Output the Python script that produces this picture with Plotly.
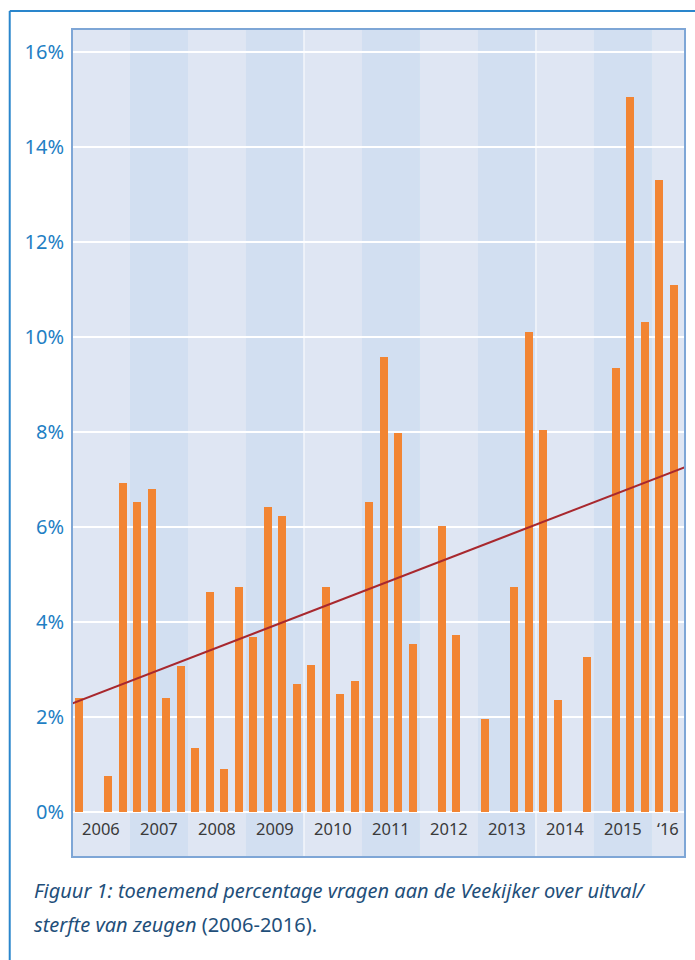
import numpy as np
import plotly.graph_objects as go

# Quarterly share of questions about sow losses / mortality (%), 2006 Q1 .. 2016 Q2
years = [2006, 2007, 2008, 2009, 2010, 2011, 2012, 2013, 2014, 2015, 2016]
year_labels = ["2006", "2007", "2008", "2009", "2010", "2011", "2012", "2013", "2014", "2015", "\u201816"]
quarterly_pct = [
    2.39, 0.00, 0.76, 6.93,    # 2006
    6.53, 6.80, 2.40, 3.07,    # 2007
    1.35, 4.63, 0.91, 4.74,    # 2008
    3.68, 6.42, 6.23, 2.69,    # 2009
    3.09, 4.74, 2.48, 2.76,    # 2010
    6.53, 9.58, 7.98, 3.54,    # 2011
    0.00, 6.02, 3.73, 0.00,    # 2012
    1.96, 0.00, 4.74, 10.11,   # 2013
    8.04, 2.36, 0.00, 3.26,    # 2014
    0.00, 9.35, 15.05, 10.32,  # 2015
    13.31, 11.09,              # 2016
]
y_ticks = [0, 2, 4, 6, 8, 10, 12, 14, 16]
caption_1 = "<i>Figuur 1: toenemend percentage vragen aan de Veekijker over uitval/</i>"
caption_2 = "<i>sterfte van zeugen</i> (2006-2016)."

X_END = 2016.57
Y_MIN, Y_MAX = -0.95, 16.48

# quarter centres on a continuous year axis
x_q = np.array([2006 + 0.125 + 0.25 * i for i in range(len(quarterly_pct))])
vals = np.array(quarterly_pct)

# least-squares linear trend over all quarters
slope, intercept = np.polyfit(x_q, vals, 1)
trend_x = [2006, X_END]
trend_y = [slope * x + intercept for x in trend_x]

BAND_LIGHT = "#dfe6f3"
BAND_DARK = "#d2dff1"

fig = go.Figure()
fig.add_trace(go.Bar(
    x=x_q, y=vals, width=0.138,
    marker=dict(color="#f28533", line=dict(width=0)),
    hoverinfo="skip",
))
fig.add_trace(go.Scatter(
    x=trend_x, y=trend_y, mode="lines",
    line=dict(color="#a8282e", width=2),
    hoverinfo="skip",
))

shapes = []
for i, yr in enumerate(years):
    shapes.append(dict(
        type="rect", xref="x", yref="paper",
        x0=yr, x1=min(yr + 1, X_END), y0=0, y1=1,
        fillcolor=BAND_LIGHT if i % 2 == 0 else BAND_DARK,
        line=dict(width=0), layer="below",
    ))
for yr in (2010, 2014):
    shapes.append(dict(
        type="line", xref="x", yref="paper", x0=yr, x1=yr, y0=0, y1=1,
        line=dict(color="#ffffff", width=1), layer="below",
    ))
# plot-area border
shapes.append(dict(
    type="rect", xref="paper", yref="paper", x0=0, x1=1, y0=0, y1=1,
    line=dict(color="#7ea6d6", width=2), fillcolor="rgba(0,0,0,0)", layer="above",
))
# outer frame (left and top edges)
FRAME = "#2a86cc"
shapes.append(dict(
    type="line", xref="paper", yref="paper", x0=-0.1016, x1=-0.1016, y0=-0.2, y1=1.0217,
    line=dict(color=FRAME, width=2), layer="above",
))
shapes.append(dict(
    type="line", xref="paper", yref="paper", x0=-0.1016, x1=1.1, y0=1.0217, y1=1.0217,
    line=dict(color=FRAME, width=2), layer="above",
))

annotations = []
for yr, lab in zip(years, year_labels):
    annotations.append(dict(
        x=(yr + min(yr + 1, X_END)) / 2, y=-0.34, xref="x", yref="y",
        text=lab, showarrow=False, xanchor="center", yanchor="middle",
        font=dict(family="Noto Sans", size=16.5, color="#3a3a3a"),
    ))
annotations.append(dict(
    x=-0.0653, y=-0.0399, xref="paper", yref="paper", text=caption_1,
    showarrow=False, xanchor="left", yanchor="middle",
    font=dict(family="Noto Sans", size=20, color="#1f4f7a"),
))
annotations.append(dict(
    x=-0.0653, y=-0.0821, xref="paper", yref="paper", text=caption_2,
    showarrow=False, xanchor="left", yanchor="middle",
    font=dict(family="Noto Sans", size=20, color="#1f4f7a"),
))

fig.update_layout(
    width=695, height=960,
    margin=dict(l=72, r=10, t=29, b=103, pad=0),
    paper_bgcolor="#ffffff", plot_bgcolor=BAND_LIGHT,
    showlegend=False, bargap=0,
    shapes=shapes, annotations=annotations,
    xaxis=dict(range=[2006, X_END], showgrid=False, zeroline=False,
               showticklabels=False, ticks="", fixedrange=True),
    yaxis=dict(range=[Y_MIN, Y_MAX], tickvals=y_ticks,
               ticktext=[f"{v}%" for v in y_ticks],
               showgrid=True, gridcolor="#ffffff", gridwidth=2,
               zeroline=False, ticks="", ticklabelstandoff=7,
               tickfont=dict(family="Noto Sans", size=20, color="#1f7fc4"),
               fixedrange=True),
)

fig.write_html("out.html")
